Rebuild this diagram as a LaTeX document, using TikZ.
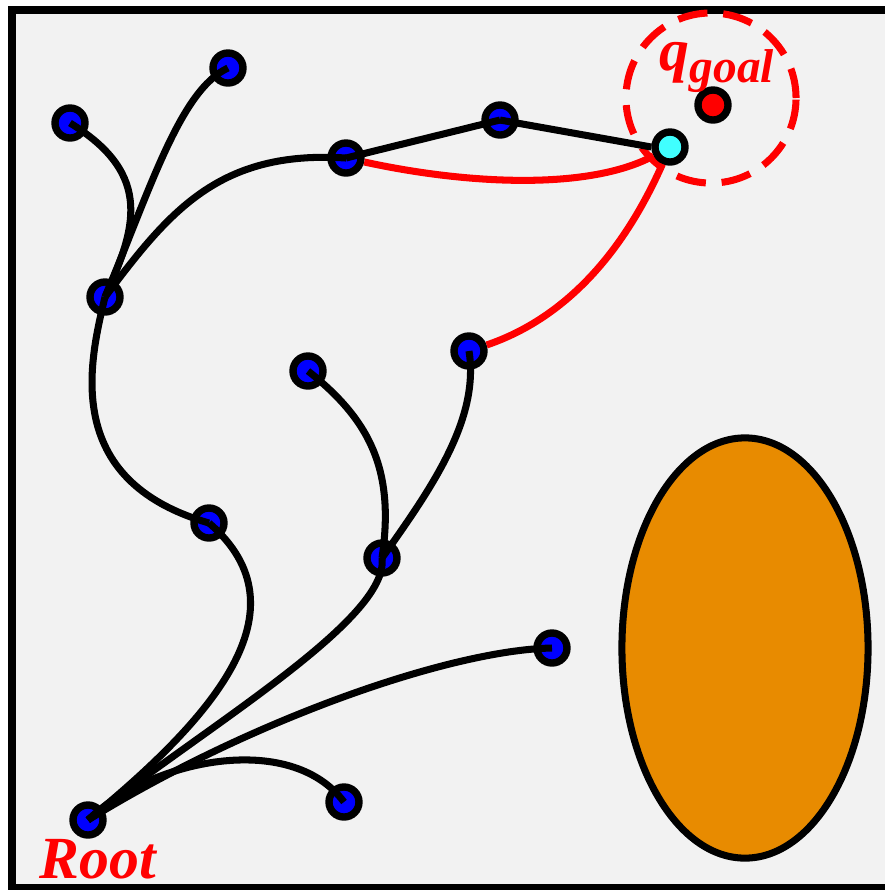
\documentclass[tikz,border=0pt]{standalone}
\usepackage{fontspec}
\setmainfont{Liberation Serif}
\usepackage{tikz}
\usetikzlibrary{positioning, calc}
\definecolor{bgray}{RGB}{242,242,242}
\definecolor{obst}{RGB}{232,139,0}
\definecolor{nearcyan}{RGB}{64,255,255}

\begin{document}
\begin{tikzpicture}[x=0.01cm, y=-0.01cm,
    treenode/.style={circle, draw=black, fill=blue, line width=2.1pt,
        minimum size=0.30cm, inner sep=0pt},
    nearnode/.style={treenode, fill=nearcyan},
    goalnode/.style={treenode, fill=red},
    branch/.style={line width=2.0pt, black},
    solution/.style={line width=2.0pt, red},
    lbl/.style={text=red, font=\fontsize{17}{19}\selectfont\bfseries\itshape}
]
\useasboundingbox (0,0) rectangle (885,890);
% workspace
\draw[line width=2pt, fill=bgray] (12,10) rectangle (895,888);
\draw[line width=2pt, fill=obst] (745,648) ellipse [x radius=1.23cm, y radius=2.10cm];
\draw[red, line width=2pt, dash pattern=on 8.5pt off 4.5pt] (711,98) circle [radius=0.85cm];
% tree nodes
\node[treenode] (root) at (88,820) {};
\node[treenode] (n1) at (228,68) {};
\node[treenode] (n2) at (70,123) {};
\node[treenode] (n3) at (346,158) {};
\node[treenode] (n4) at (500,120) {};
\node[treenode] (n5) at (105,297) {};
\node[treenode] (n6) at (308,371) {};
\node[treenode] (n7) at (469,351) {};
\node[treenode] (n8) at (209,523) {};
\node[treenode] (n9) at (382,558) {};
\node[treenode] (n10) at (552,648) {};
\node[treenode] (n11) at (344,802) {};
\node[nearnode] (near) at (670,147) {};
\node[goalnode] (goal) at (713,105) {};
% labels
\node[lbl, anchor=base] (rootlbl) at (98,878) {Root};
\node[lbl, anchor=base] (goallbl) at (717,70)
    {q\raisebox{-0.45ex}{\fontsize{13.5}{15}\selectfont goal}};
% branches
\draw[branch] (root.center) .. controls (210,720) and (310,610) .. (n8.center);
\draw[branch] (root.center) .. controls (200,730) and (390,620) .. (n9.center);
\draw[branch] (root.center) .. controls (250,720) and (450,650) .. (n10.center);
\draw[branch] (root.center) .. controls (150,760) and (290,730) .. (n11.center);
\draw[branch] (n8.center) .. controls (60,480) and (90,360) .. (n5.center);
\draw[branch] (n5.center) .. controls (135,230) and (155,175) .. (n2.center);
\draw[branch] (n5.center) .. controls (150,190) and (180,90) .. (n1.center);
\draw[branch] (n5.center) .. controls (170,210) and (220,150) .. (n3.center);
\draw[branch] (n3.center) -- (n4.center);
\draw[branch] (n4.center) -- (near.west);
\draw[branch] (n9.center) .. controls (395,470) and (370,420) .. (n6.center);
\draw[branch] (n9.center) .. controls (430,490) and (480,420) .. (n7.center);
% rewired paths
\draw[solution] (n3) .. controls (470,185) and (590,190) .. (near);
\draw[solution] (n7) .. controls (560,320) and (620,260) .. (near);
\end{tikzpicture}
\end{document}
